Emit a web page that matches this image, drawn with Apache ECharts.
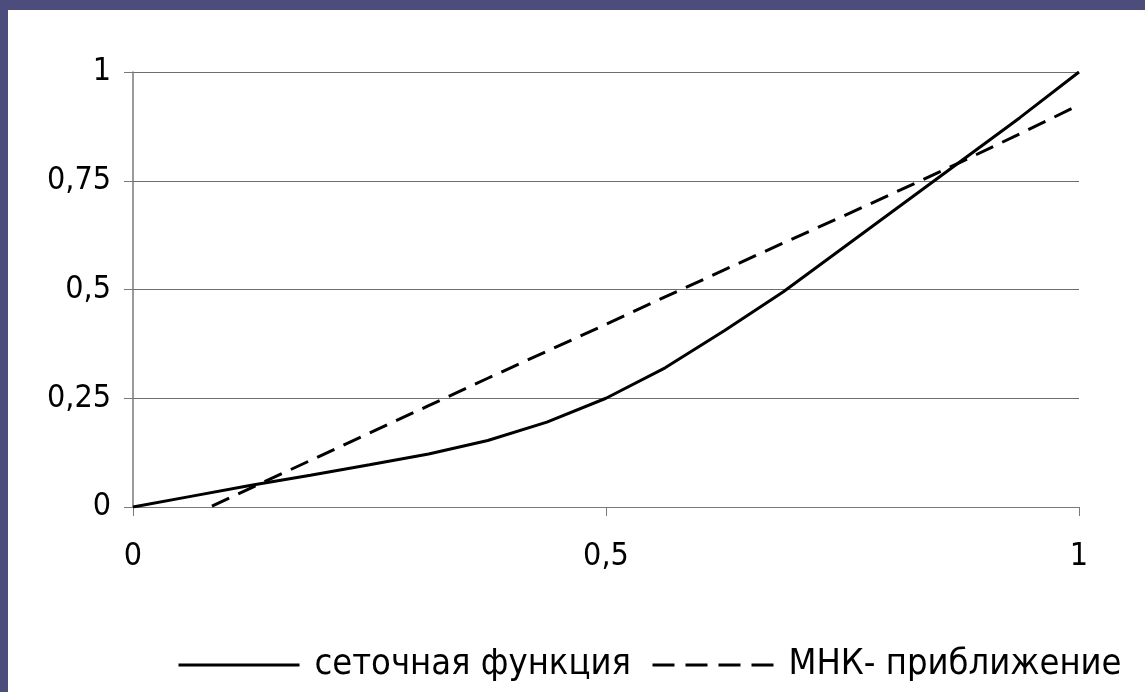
<!DOCTYPE html>
<html>
<head>
<meta charset="utf-8">
<script src="https://cdn.jsdelivr.net/npm/echarts@6/dist/echarts.min.js"></script>
<style>
  html, body { margin: 0; padding: 0; width: 1145px; height: 692px; background: #4d4d7d; overflow: hidden; }
  #chart { position: absolute; left: 8px; top: 10px; width: 1137px; height: 682px; background: #ffffff; }
</style>
</head>
<body>
<div id="chart"></div>
<script>
// grid nodes, h = 1/16
const xNodes = [0, 0.0625, 0.125, 0.1875, 0.25, 0.3125, 0.375, 0.4375, 0.5,
                0.5625, 0.625, 0.6875, 0.75, 0.8125, 0.875, 0.9375, 1];
// сеточная функция
const gridValues = [0, 0.025, 0.05, 0.073, 0.097, 0.122, 0.153, 0.195, 0.25,
                    0.32, 0.405, 0.495, 0.595, 0.695, 0.795, 0.895, 1];
// МНК- приближение (below 0 is cut off by the axis)
const lsqValues = [-0.082, -0.019, 0.044, 0.107, 0.17, 0.233, 0.296, 0.358, 0.42,
                   0.483, 0.545, 0.607, 0.668, 0.73, 0.793, 0.858, 0.924];
const seriesNames = ['сеточная функция', 'МНК- приближение'];

const FONT = 'DejaVu Sans Condensed';
const comma = v => String(v).replace('.', ',');

const chart = echarts.init(document.getElementById('chart'));

chart.setOption({
  animation: false,
  grid: { left: 125, right: 66, top: 62, bottom: 185 },
  legend: {
    left: 164,
    top: 632,
    itemWidth: 121,
    itemHeight: 14,
    itemGap: 20,
    itemStyle: { opacity: 0 },
    lineStyle: { width: 3, opacity: 1, color: '#000' },
    textStyle: { fontFamily: FONT, fontSize: 36, color: '#000', padding: [0, 0, 0, 10] },
    data: [
      { name: seriesNames[0] },
      { name: seriesNames[1], lineStyle: { width: 3, opacity: 1, color: '#000', type: [22, 11] } }
    ]
  },
  xAxis: {
    type: 'value',
    min: 0,
    max: 1,
    interval: 0.5,
    axisLine: { show: true, lineStyle: { color: '#7a7a7a', width: 1 } },
    axisTick: { show: true, length: 9, lineStyle: { color: '#7a7a7a' } },
    splitLine: { show: false },
    axisLabel: { margin: 34, fontFamily: FONT, fontSize: 32, color: '#000', formatter: comma }
  },
  yAxis: {
    type: 'value',
    min: 0,
    max: 1,
    interval: 0.25,
    axisLine: { show: true, lineStyle: { color: '#7a7a7a', width: 1.5 } },
    axisTick: { show: true, length: 9, lineStyle: { color: '#7a7a7a' } },
    splitLine: { show: true, lineStyle: { color: '#6e6e6e', width: 1 } },
    axisLabel: { margin: 22, fontFamily: FONT, fontSize: 32, color: '#000', formatter: comma }
  },
  series: [
    {
      name: seriesNames[0],
      type: 'line',
      data: xNodes.map((x, i) => [x, gridValues[i]]),
      showSymbol: false,
      symbol: 'none',
      lineStyle: { color: '#000', width: 3 },
      itemStyle: { color: '#000' }
    },
    {
      name: seriesNames[1],
      type: 'line',
      data: xNodes.map((x, i) => [x, lsqValues[i]]),
      showSymbol: false,
      symbol: 'none',
      clip: true,
      lineStyle: { color: '#000', width: 3, type: [19, 10] },
      itemStyle: { color: '#000' }
    }
  ]
});
</script>
</body>
</html>
